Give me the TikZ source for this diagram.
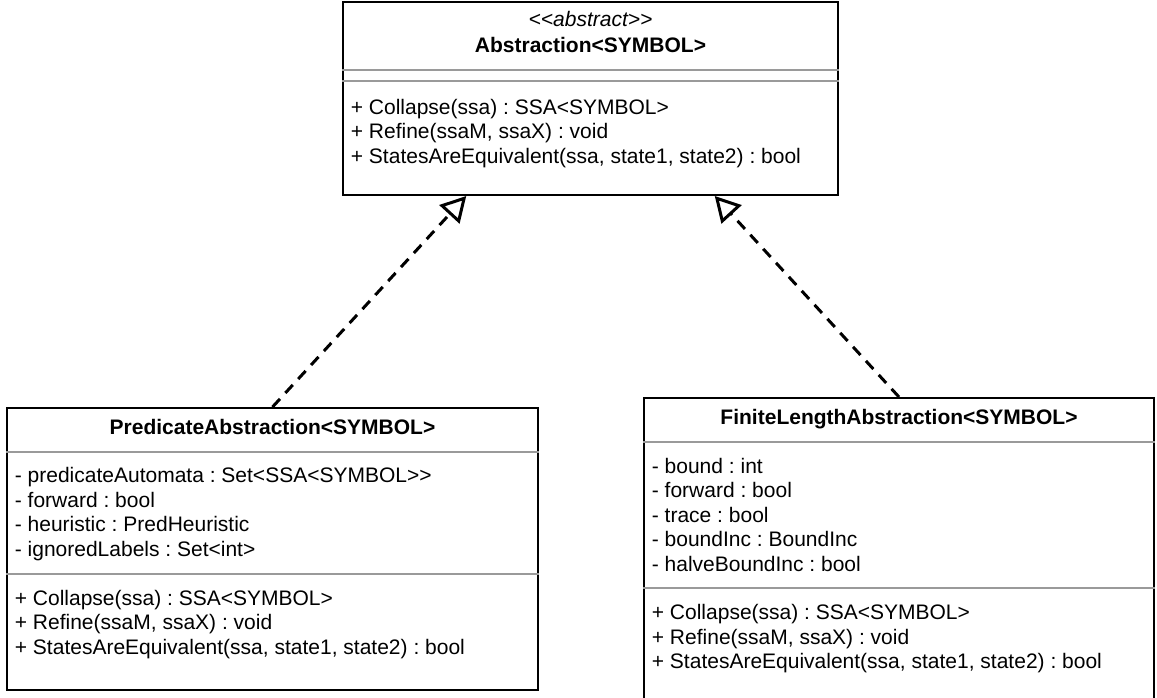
\documentclass[tikz,border=0pt]{standalone}
\usepackage{fontspec}
\usepackage{tikz}
\usetikzlibrary{arrows.meta,calc}
\newfontfamily\umlfont{Liberation Sans}
\frenchspacing
\definecolor{compartmentgray}{HTML}{9A9A9A}
\newcommand{\abstractionops}{+ Collapse(ssa) : SSA<SYMBOL>\\ + Refine(ssaM, ssaX) : void\\ + StatesAreEquivalent(ssa, state1, state2) : bool}
\tikzset{
    class-box/.style = {draw=black, line width=1pt, rectangle, inner sep=0pt},
    class-text/.style = {inner sep=0pt, font=\umlfont\fontsize{10.5pt}{12.25pt}\selectfont},
    class-title/.style = {class-text, anchor=base, font=\umlfont\fontsize{10.5pt}{12.25pt}\selectfont\bfseries},
    class-stereotype/.style = {class-text, anchor=base, font=\umlfont\fontsize{10.5pt}{12.25pt}\selectfont\itshape},
    member-list/.style = {class-text, anchor=north west, align=left},
    compartment-line/.style = {draw=compartmentgray, line width=1pt},
    realization/.style = {draw=black, line width=1.5pt, dash pattern=on 5.5pt off 4pt, -{Triangle[open, length=12.5pt, width=13.5pt]}},
}

\begin{document}
\begin{tikzpicture}[x=0.5pt, y=-0.5pt]
\useasboundingbox (0,0) rectangle (1157,697);

\node[class-box, minimum width=247.5pt, minimum height=96.5pt] (abstraction) at (590.5,98.5) {};
\node[class-stereotype] (abstraction-stereotype) at ($(abstraction.north)+(0,25)$) {<<abstract>>};
\node[class-title] (abstraction-title) at ($(abstraction.north)+(0,51)$) {Abstraction<SYMBOL>};
\draw[compartment-line] ($(abstraction.north west)+(0,69)$) -- ($(abstraction.north east)+(0,69)$);
\draw[compartment-line] ($(abstraction.north west)+(0,80)$) -- ($(abstraction.north east)+(0,80)$);
\node[member-list] (abstraction-ops) at ($(abstraction.north west)+(8.5,97.7)$) {\abstractionops};

\node[class-box, minimum width=265.5pt, minimum height=141pt] (pred) at (272.5,549) {};
\node[class-title] (pred-title) at ($(pred.north)+(0,27)$) {PredicateAbstraction<SYMBOL>};
\draw[compartment-line] ($(pred.north west)+(0,44.5)$) -- ($(pred.north east)+(0,44.5)$);
\node[member-list] (pred-attrs) at ($(pred.north west)+(8.5,60.2)$) {- predicateAutomata : Set<SSA<SYMBOL>>\\ - forward : bool\\ - heuristic : PredHeuristic\\ - ignoredLabels : Set<int>};
\draw[compartment-line] ($(pred.north west)+(0,166.5)$) -- ($(pred.north east)+(0,166.5)$);
\node[member-list] (pred-ops) at ($(pred.north west)+(8.5,182.7)$) {\abstractionops};

\node[class-box, minimum width=255pt, minimum height=153.25pt] (finite) at (899,551.25) {};
\node[class-title] (finite-title) at ($(finite.north)+(0,27)$) {FiniteLengthAbstraction<SYMBOL>};
\draw[compartment-line] ($(finite.north west)+(0,44.5)$) -- ($(finite.north east)+(0,44.5)$);
\node[member-list] (finite-attrs) at ($(finite.north west)+(8.5,60.5)$) {- bound : int\\ - forward : bool\\ - trace : bool\\ - boundInc : BoundInc\\ - halveBoundInc : bool};
\draw[compartment-line] ($(finite.north west)+(0,191)$) -- ($(finite.north east)+(0,191)$);
\node[member-list] (finite-ops) at ($(finite.north west)+(8.5,207.2)$) {\abstractionops};

\draw[realization] (pred.north) -- ($(abstraction.south west)!0.25!(abstraction.south east)$);
\draw[realization] (finite.north) -- ($(abstraction.south west)!0.75!(abstraction.south east)$);
\end{tikzpicture}
\end{document}
